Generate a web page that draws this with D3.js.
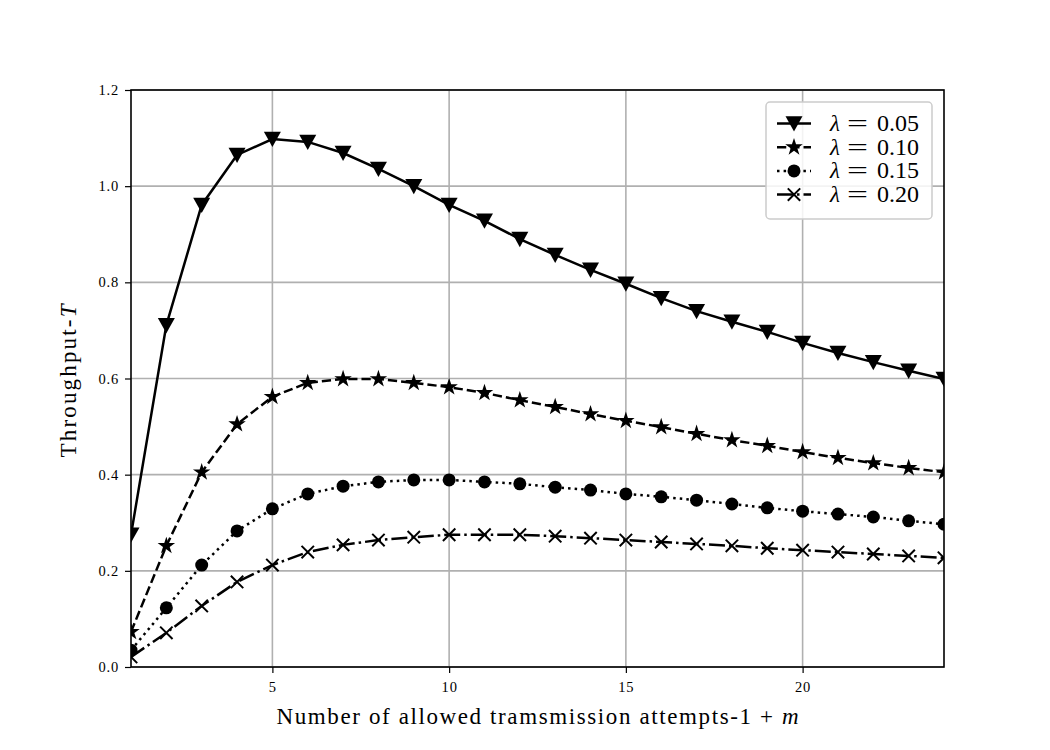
<!DOCTYPE html>
<html><head><meta charset="utf-8">
<script src="https://cdn.jsdelivr.net/npm/d3@7"></script>
<style>body{margin:0;background:#fff}svg{display:block}</style>
</head><body>
<svg id="chart" width="1050" height="750"></svg>
<script>
const xValues = d3.range(1, 25);
const s005 = [0.275,0.711,0.961,1.065,1.098,1.092,1.069,1.036,1.000,0.961,0.928,0.890,0.857,0.826,0.797,0.767,0.740,0.718,0.697,0.674,0.653,0.634,0.616,0.599];
const s010 = [0.073,0.252,0.405,0.505,0.562,0.591,0.599,0.599,0.591,0.582,0.570,0.555,0.541,0.526,0.512,0.499,0.485,0.472,0.460,0.447,0.435,0.424,0.414,0.405];
const s015 = [0.035,0.123,0.212,0.283,0.329,0.360,0.376,0.385,0.389,0.389,0.385,0.381,0.374,0.368,0.360,0.354,0.347,0.339,0.331,0.324,0.318,0.312,0.304,0.297];
const s020 = [0.021,0.071,0.127,0.177,0.212,0.239,0.254,0.264,0.270,0.275,0.275,0.275,0.272,0.268,0.264,0.260,0.256,0.252,0.247,0.243,0.239,0.235,0.231,0.227];
const seriesNames = ["0.05","0.10","0.15","0.20"];
const xTicks = [5,10,15,20];
const yTicks = [0.0,0.2,0.4,0.6,0.8,1.0,1.2];

const series = [
  {name: seriesNames[0], values: s005, dash: null, marker: "tri"},
  {name: seriesNames[1], values: s010, dash: "9.25,4", marker: "star"},
  {name: seriesNames[2], values: s015, dash: "2.5,4.1", marker: "circle"},
  {name: seriesNames[3], values: s020, dash: "16,4,2.5,4", marker: "x"}
];

const svg = d3.select("#chart");
const L = 131, R = 944, T = 90, B = 667;
const x = d3.scaleLinear().domain([1, 24]).range([L, R]);
const y = d3.scaleLinear().domain([0, 1.2]).range([B, T]);
const font = "'Liberation Serif', 'DejaVu Serif', serif";

// grid
svg.append("g").selectAll("line.vg").data(xTicks).join("line")
  .attr("x1", d => x(d)).attr("x2", d => x(d)).attr("y1", T).attr("y2", B)
  .attr("stroke", "#b0b0b0").attr("stroke-width", 1.6);
svg.append("g").selectAll("line.hg").data(yTicks).join("line")
  .attr("y1", d => y(d)).attr("y2", d => y(d)).attr("x1", L).attr("x2", R)
  .attr("stroke", "#b0b0b0").attr("stroke-width", 1.6);

// axes
const xAxis = d3.axisBottom(x).tickValues(xTicks).tickSize(6).tickPadding(9).tickFormat(d3.format("d"));
const yAxis = d3.axisLeft(y).tickValues(yTicks).tickSize(6).tickPadding(6).tickFormat(d3.format(".1f"));
const gx = svg.append("g").attr("transform", `translate(0,${B})`).call(xAxis);
const gy = svg.append("g").attr("transform", `translate(${L},0)`).call(yAxis);
[gx, gy].forEach(g => {
  g.select(".domain").remove();
  g.selectAll(".tick line").attr("stroke", "#000").attr("stroke-width", 1.2);
  g.selectAll(".tick text").attr("font-family", font).attr("font-size", 14.5).attr("fill", "#000")
    .attr("letter-spacing", 0.8);
});

svg.append("defs").append("clipPath").attr("id", "clip")
  .append("rect").attr("x", L).attr("y", T - 20).attr("width", R - L).attr("height", B - T + 20);

const line = d3.line().x((d, i) => x(xValues[i])).y(d => y(d));

function drawMarker(g, type, cx, cy) {
  if (type === "tri") {
    const s = 8.5;
    g.append("path").attr("d", `M${cx - s},${cy - s * 0.85}L${cx + s},${cy - s * 0.85}L${cx},${cy + s * 0.95}Z`).attr("fill", "#000");
  } else if (type === "star") {
    g.append("path").attr("d", d3.symbol().type(d3.symbolStar).size(95)()).attr("transform", `translate(${cx},${cy})`).attr("fill", "#000");
  } else if (type === "circle") {
    g.append("circle").attr("cx", cx).attr("cy", cy).attr("r", 6.5).attr("fill", "#000");
  } else if (type === "x") {
    const s = 6.2;
    g.append("path").attr("d", `M${cx - s},${cy - s}L${cx + s},${cy + s}M${cx - s},${cy + s}L${cx + s},${cy - s}`)
      .attr("stroke", "#000").attr("stroke-width", 2).attr("fill", "none");
  }
}

const plot = svg.append("g").attr("clip-path", "url(#clip)");
series.forEach(s => {
  plot.append("path").datum(s.values).attr("d", line)
    .attr("fill", "none").attr("stroke", "#000").attr("stroke-width", 2.5)
    .attr("stroke-dasharray", s.dash);
  const mg = plot.append("g");
  s.values.forEach((v, i) => drawMarker(mg, s.marker, x(xValues[i]), y(v)));
});

// frame
svg.append("rect").attr("x", L).attr("y", T).attr("width", R - L).attr("height", B - T)
  .attr("fill", "none").attr("stroke", "#000").attr("stroke-width", 1.6);

// legend
const lg = svg.append("g");
lg.append("rect").attr("x", 766).attr("y", 102).attr("width", 166).attr("height", 117).attr("rx", 4)
  .attr("fill", "rgba(255,255,255,0.85)").attr("stroke", "#cccccc").attr("stroke-width", 1.5);
series.forEach((s, i) => {
  const yy = 123.5 + i * 23.7;
  lg.append("line").attr("x1", 777).attr("x2", 811).attr("y1", yy).attr("y2", yy)
    .attr("stroke", "#000").attr("stroke-width", 2.5).attr("stroke-dasharray", s.dash);
  drawMarker(lg, s.marker, 794, yy);
  const t = lg.append("text").attr("y", yy + 7.5).attr("font-family", font).attr("font-size", 23).attr("fill", "#000");
  t.append("tspan").attr("x", 830).attr("font-style", "italic").text("λ");
  t.append("tspan").attr("x", 847).attr("textLength", 21).attr("lengthAdjust", "spacingAndGlyphs").text("=");
  t.append("tspan").attr("x", 877).attr("textLength", 42).attr("lengthAdjust", "spacingAndGlyphs").text(s.name);
});

// axis labels
svg.append("text").attr("x", (L + R) / 2).attr("y", 724).attr("text-anchor", "middle")
  .attr("font-family", font).attr("font-size", 23).attr("fill", "#000")
  .attr("textLength", 522).attr("lengthAdjust", "spacing")
  .call(t => { t.append("tspan").text("Number of allowed tramsmission attempts-1 + "); t.append("tspan").attr("font-style", "italic").text("m"); });
svg.append("text").attr("transform", `translate(76,381) rotate(-90)`).attr("text-anchor", "middle")
  .attr("font-family", font).attr("font-size", 23).attr("fill", "#000")
  .attr("textLength", 153).attr("lengthAdjust", "spacing")
  .call(t => { t.append("tspan").text("Throughput-"); t.append("tspan").attr("font-style", "italic").text("T"); });
</script>
</body></html>
